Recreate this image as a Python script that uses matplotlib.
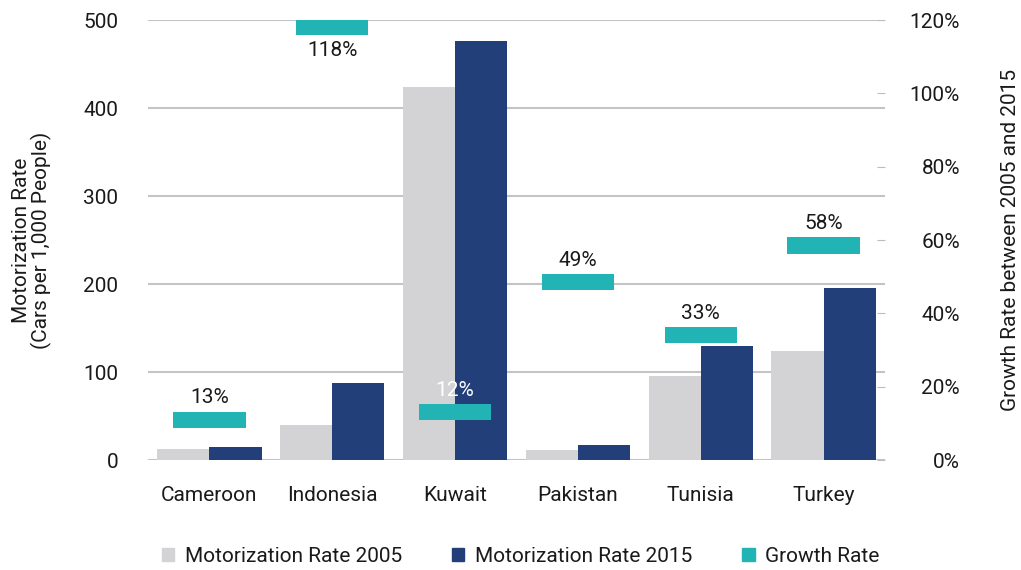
import matplotlib.pyplot as plt
import numpy as np
from matplotlib.patches import Patch

plt.rcParams['font.family'] = ['Roboto', 'DejaVu Sans']

# data
countries = ['Cameroon', 'Indonesia', 'Kuwait', 'Pakistan', 'Tunisia', 'Turkey']
rate_2005 = [13, 40, 424, 11, 96, 124]
rate_2015 = [15, 88, 476, 17, 129, 196]
growth = [11, 118, 13, 48.5, 34, 58.5]
growth_labels = ['13%', '118%', '12%', '49%', '33%', '58%']

GRAY = '#d3d3d5'
NAVY = '#223f7a'
TEAL = '#22b3b5'
TXT = '#1a1a1a'
FS = 15

fig = plt.figure(figsize=(10.21, 5.70), dpi=100)
ax = fig.add_axes([148/1021, 110/570, 737/1021, 440/570])
ax2 = ax.twinx()

x = np.arange(len(countries))
w = 0.425
ax.bar(x - w/2, rate_2005, w, color=GRAY, zorder=2)
ax.bar(x + w/2, rate_2015, w, color=NAVY, zorder=2)

ax.set_xlim(-0.5, len(countries) - 0.5)
ax.set_ylim(0, 500)
ax.set_yticks([0, 100, 200, 300, 400, 500])
ax.grid(axis='y', color='#c4c4c4', lw=1.5, zorder=0)
for s in ax.spines.values():
    s.set_visible(False)
ax.tick_params(axis='y', length=0, pad=21.5, labelsize=FS, labelcolor=TXT)
ax.tick_params(axis='x', length=0, pad=19, labelsize=FS, labelcolor=TXT)
ax.set_xticks(x)
ax.set_xticklabels(countries)
ax.set_ylabel('Motorization Rate\n(Cars per 1,000 People)', fontsize=FS,
              color=TXT, linespacing=1.05, va='center')
ax.yaxis.set_label_coords(-116/737, 0.5)

# growth markers on the right axis
mh = 4.4
ax2.bar(x, [mh] * len(x), 0.59, bottom=[g - mh/2 for g in growth], color=TEAL, zorder=3)
ax2.set_ylim(0, 120)
ax2.set_yticks([0, 20, 40, 60, 80, 100, 120])
ax2.set_yticklabels([f'{v}%' for v in range(0, 121, 20)])
for s in ax2.spines.values():
    s.set_visible(False)
ax2.tick_params(axis='y', direction='in', length=6, color='#bdbdbd', pad=54,
                labelsize=FS, labelcolor=TXT)
for lbl in ax2.get_yticklabels():
    lbl.set_horizontalalignment('right')
ax2.set_ylabel('Growth Rate between 2005 and 2015', fontsize=FS, color=TXT,
               va='center')
ax2.yaxis.set_label_coords(1 + 125/737, 0.5)

for i, (g, t) in enumerate(zip(growth, growth_labels)):
    if g > 100:
        ax2.text(i, g - mh/2 - 1.5, t, ha='center', va='top', fontsize=FS, color=TXT)
    else:
        c = 'white' if countries[i] == 'Kuwait' else TXT
        ax2.text(i, g + mh/2 + 1.2, t, ha='center', va='bottom', fontsize=FS, color=c)

handles = [Patch(color=GRAY, label='Motorization Rate 2005'),
           Patch(color=NAVY, label='Motorization Rate 2015'),
           Patch(color=TEAL, label='Growth Rate')]
fig.legend(handles=handles, loc='center left', bbox_to_anchor=(143/1021, 14/570),
           ncol=3, frameon=False, fontsize=FS, handlelength=0.6, handleheight=0.6,
           handletextpad=0.5, columnspacing=2.4, labelcolor=TXT)

fig.savefig('out.png', dpi=100)
